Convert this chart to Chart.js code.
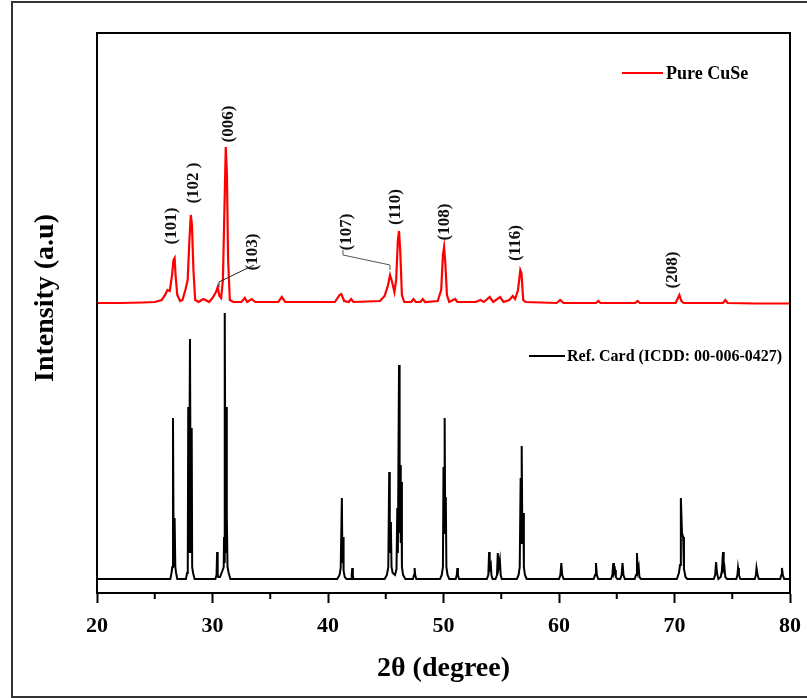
<!DOCTYPE html>
<html>
<head>
<meta charset="utf-8">
<script src="https://cdn.jsdelivr.net/npm/chart.js@4.4.1/dist/chart.umd.min.js"></script>
<style>
  body { margin: 0; background: #fff; }
  #wrap { width: 807px; height: 698px; }
</style>
</head>
<body>
<div id="wrap"><canvas id="myChart" width="807" height="698"></canvas></div>
<script>
// measured CuSe pattern (2theta in degree, intensity a.u.)
const cuseX = [20, 22, 24, 25.0, 25.6, 25.9, 26.1, 26.3, 26.5, 26.62, 26.72, 26.8, 26.95, 27.2, 27.4, 27.65, 27.85, 28.0, 28.12, 28.22, 28.35, 28.5, 28.8, 29.2, 29.4, 29.7, 30.0, 30.3, 30.45, 30.6, 30.75, 30.9, 31.05, 31.15, 31.25, 31.35, 31.5, 31.8, 32.5, 32.8, 33.0, 33.4, 33.7, 35.7, 36.0, 36.3, 40.6, 41.0, 41.15, 41.4, 41.8, 42.0, 42.2, 44.5, 44.9, 45.2, 45.37, 45.55, 45.75, 45.9, 46.05, 46.15, 46.25, 46.4, 46.6, 47.2, 47.4, 47.6, 48.0, 48.2, 48.4, 49.5, 49.8, 49.95, 50.05, 50.15, 50.3, 50.5, 51.0, 51.2, 52.8, 53.2, 53.5, 54.0, 54.3, 54.9, 55.2, 55.7, 56.0, 56.2, 56.45, 56.65, 56.75, 56.9, 57.1, 59.8, 60.1, 60.4, 63.2, 63.4, 63.6, 66.6, 66.8, 67.0, 70.1, 70.3, 70.42, 70.6, 70.8, 74.2, 74.4, 74.6, 77, 80];
const cuseY = [290, 290, 290.5, 291, 293, 298, 303, 302, 318, 333, 335, 318, 298, 292, 293, 303, 313, 353, 378, 368, 323, 293, 291, 294, 293, 291, 295, 301, 306, 297, 295, 313, 393, 446, 418, 333, 293, 291, 291, 295, 291, 294, 291, 291, 296, 291, 291, 298, 299, 292, 291, 294, 291, 292, 297, 308, 318, 311, 301, 313, 353, 362, 343, 298, 291, 291, 294, 291, 291, 294, 291, 292, 303, 338, 346, 331, 298, 291, 294, 291, 291, 293, 291, 296, 291, 296, 291, 293, 297, 294, 303, 323, 320, 293, 291, 290, 293, 290, 290, 292, 290, 290, 292, 290, 290, 295, 298, 292, 290, 290, 293, 290, 289.5, 289.5];

// reference card pattern
const refX = [20, 26.35, 26.45, 26.52, 26.58, 26.64, 26.72, 26.78, 26.85, 26.95, 27.7, 27.8, 27.86, 27.9, 27.96, 28.05, 28.12, 28.2, 28.24, 28.32, 28.45, 30.25, 30.35, 30.4, 30.45, 30.5, 30.65, 30.85, 30.97, 31.0, 31.04, 31.08, 31.13, 31.2, 31.23, 31.25, 31.3, 31.4, 31.55, 40.8, 41.0, 41.1, 41.2, 41.25, 41.3, 41.35, 41.45, 41.6, 42.0, 42.05, 42.1, 42.15, 42.2, 44.9, 45.1, 45.22, 45.3, 45.35, 45.4, 45.45, 45.5, 45.6, 45.8, 45.93, 46.0, 46.05, 46.15, 46.2, 46.25, 46.3, 46.35, 46.4, 46.5, 46.7, 47.35, 47.45, 47.5, 47.55, 47.65, 49.7, 49.85, 49.95, 50.0, 50.05, 50.1, 50.15, 50.2, 50.25, 50.35, 50.5, 51.05, 51.15, 51.2, 51.25, 51.35, 53.75, 53.88, 53.95, 54.0, 54.1, 54.15, 54.25, 54.5, 54.63, 54.7, 54.78, 54.88, 54.95, 55.05, 56.35, 56.5, 56.6, 56.68, 56.72, 56.77, 56.83, 56.91, 56.96, 57.05, 57.2, 60.0, 60.12, 60.2, 60.28, 60.4, 63.0, 63.12, 63.2, 63.28, 63.4, 64.5, 64.62, 64.7, 64.76, 64.85, 64.92, 65.05, 65.3, 65.42, 65.5, 65.58, 65.7, 66.55, 66.67, 66.75, 66.82, 66.9, 66.96, 67.1, 70.2, 70.38, 70.48, 70.55, 70.65, 70.75, 70.82, 70.95, 71.1, 73.4, 73.52, 73.6, 73.68, 73.8, 74.0, 74.1, 74.2, 74.26, 74.32, 74.4, 74.55, 75.35, 75.45, 75.5, 75.58, 75.7, 76.95, 77.05, 77.1, 77.2, 77.3, 79.15, 79.25, 79.3, 79.38, 79.5, 80];
const refY = [14, 14, 20, 26, 175, 26, 75, 26, 20, 14, 14, 20, 26, 186, 40, 254, 40, 165, 26, 20, 14, 14, 18, 41, 18, 16, 16, 22, 26, 56, 30, 280, 40, 186, 40, 76, 26, 20, 14, 14, 18, 25, 95, 30, 56, 22, 16, 14, 14, 18, 25, 18, 14, 14, 18, 26, 121, 40, 71, 63, 26, 20, 18, 24, 85, 40, 228, 60, 128, 50, 111, 26, 18, 14, 14, 18, 25, 18, 14, 14, 18, 26, 126, 60, 175, 60, 96, 26, 18, 14, 14, 18, 25, 18, 14, 14, 18, 41, 24, 28, 18, 14, 14, 18, 40, 26, 33, 18, 14, 14, 18, 26, 115, 50, 147, 50, 80, 26, 18, 14, 14, 18, 30, 18, 14, 14, 18, 30, 18, 14, 14, 18, 30, 20, 23, 16, 14, 14, 18, 30, 18, 14, 14, 18, 40, 22, 26, 16, 14, 14, 20, 28, 95, 60, 56, 24, 16, 14, 14, 18, 31, 20, 14, 16, 22, 41, 24, 26, 16, 14, 14, 18, 25, 18, 14, 14, 18, 25, 18, 14, 14, 18, 25, 18, 14, 14];

const seriesNames = ['Pure CuSe', 'Ref. Card (ICDD: 00-006-0427)'];
const xTicks = [20, 30, 40, 50, 60, 70, 80];
const minorTicks = [25, 35, 45, 55, 65, 75];

// hkl labels, placed in data units
const hklText = ['(101)', '(102 )', '(006)', '(103)', '(107)', '(110)', '(108)', '(116)', '(208)'];
const hklX = [26.49, 28.40, 31.43, 33.51, 41.65, 45.89, 50.13, 56.28, 69.87];
const hklY = [367, 410, 469, 341, 361, 386, 371, 350, 323];

function toPoints(xs, ys) {
    let out = [];
    for (let i = 0; i < xs.length; i++) {
        out.push({ x: xs[i], y: ys[i] });
    }
    return out;
}

const serif = "'Liberation Serif', 'Times New Roman', serif";

const decorPlugin = {
    id: 'decor',
    afterDraw(chart) {
        const ctx = chart.ctx;
        const a = chart.chartArea;
        const xs = chart.scales.x;
        const ys = chart.scales.y;
        ctx.save();

        // outer frame
        ctx.strokeStyle = '#333';
        ctx.lineWidth = 2;
        ctx.beginPath();
        ctx.moveTo(812, 2);
        ctx.lineTo(12, 2);
        ctx.lineTo(12, 697);
        ctx.lineTo(812, 697);
        ctx.stroke();

        // plot frame
        ctx.strokeStyle = '#000';
        ctx.lineWidth = 2;
        ctx.strokeRect(a.left, a.top, a.right - a.left, a.bottom - a.top);

        // minor ticks
        ctx.beginPath();
        minorTicks.forEach(v => {
            const px = xs.getPixelForValue(v);
            ctx.moveTo(px, a.bottom);
            ctx.lineTo(px, a.bottom + 6);
        });
        ctx.stroke();

        // y title
        ctx.save();
        ctx.translate(46, 298);
        ctx.rotate(-Math.PI / 2);
        ctx.font = 'bold 28px ' + serif;
        ctx.fillStyle = '#000';
        ctx.textAlign = 'center';
        ctx.textBaseline = 'middle';
        ctx.fillText('Intensity (a.u)', 0, 0);
        ctx.restore();

        // hkl labels
        ctx.font = 'bold 17px ' + serif;
        ctx.fillStyle = '#111';
        ctx.textAlign = 'center';
        ctx.textBaseline = 'middle';
        for (let i = 0; i < hklText.length; i++) {
            ctx.save();
            ctx.translate(xs.getPixelForValue(hklX[i]), ys.getPixelForValue(hklY[i]));
            ctx.rotate(-Math.PI / 2);
            ctx.fillText(hklText[i], 0, 0);
            ctx.restore();
        }

        // leader lines for (103) and (107)
        ctx.lineWidth = 1;
        ctx.strokeStyle = '#222';
        ctx.beginPath();
        ctx.moveTo(xs.getPixelForValue(30.56), ys.getPixelForValue(306));
        ctx.lineTo(xs.getPixelForValue(30.56), ys.getPixelForValue(311));
        ctx.lineTo(xs.getPixelForValue(33.59), ys.getPixelForValue(328));
        ctx.stroke();
        ctx.strokeStyle = '#555';
        ctx.beginPath();
        ctx.moveTo(xs.getPixelForValue(41.30), ys.getPixelForValue(343));
        ctx.lineTo(xs.getPixelForValue(41.30), ys.getPixelForValue(338));
        ctx.lineTo(xs.getPixelForValue(45.37), ys.getPixelForValue(328));
        ctx.lineTo(xs.getPixelForValue(45.37), ys.getPixelForValue(323));
        ctx.stroke();

        // legends
        ctx.textAlign = 'left';
        ctx.lineWidth = 2;
        ctx.strokeStyle = '#ff0000';
        ctx.beginPath();
        ctx.moveTo(622, 73);
        ctx.lineTo(663, 73);
        ctx.stroke();
        ctx.fillStyle = '#000';
        ctx.font = 'bold 18px ' + serif;
        ctx.fillText(seriesNames[0], 666, 74);

        ctx.strokeStyle = '#000';
        ctx.beginPath();
        ctx.moveTo(529, 356);
        ctx.lineTo(565, 356);
        ctx.stroke();
        ctx.font = 'bold 16px ' + serif;
        ctx.fillText(seriesNames[1], 567, 357);

        ctx.restore();
    }
};

const ctx = document.getElementById('myChart');

new Chart(ctx, {
    type: 'line',
    data: {
        datasets: [
            {
                label: seriesNames[0],
                data: toPoints(cuseX, cuseY),
                borderColor: '#ff0000',
                borderWidth: 2.2,
                pointRadius: 0,
                tension: 0
            },
            {
                label: seriesNames[1],
                data: toPoints(refX, refY),
                borderColor: '#000000',
                borderWidth: 2,
                pointRadius: 0,
                tension: 0
            }
        ]
    },
    options: {
        responsive: false,
        animation: false,
        events: [],
        layout: { padding: { left: 97, top: 33, right: 17, bottom: 0 } },
        scales: {
            x: {
                type: 'linear',
                min: 20,
                max: 80,
                afterFit(scale) {
                    scale.height = 105;
                    scale.paddingLeft = 0;
                    scale.paddingRight = 0;
                },
                afterBuildTicks(scale) { scale.ticks = xTicks.map(v => ({ value: v })); },
                ticks: {
                    font: { family: serif, size: 22, weight: 'bold' },
                    color: '#000',
                    padding: 10
                },
                grid: {
                    drawOnChartArea: false,
                    drawTicks: true,
                    tickLength: 10,
                    tickWidth: 2,
                    tickColor: '#000'
                },
                border: { display: true, color: '#000', width: 2 },
                title: {
                    display: true,
                    text: '2θ (degree)',
                    font: { family: serif, size: 28, weight: 'bold' },
                    color: '#000',
                    padding: { top: 0, bottom: 12 }
                }
            },
            y: {
                display: false,
                min: 0,
                max: 560
            }
        },
        plugins: {
            legend: { display: false },
            tooltip: { enabled: false }
        }
    },
    plugins: [decorPlugin]
});
</script>
</body>
</html>
